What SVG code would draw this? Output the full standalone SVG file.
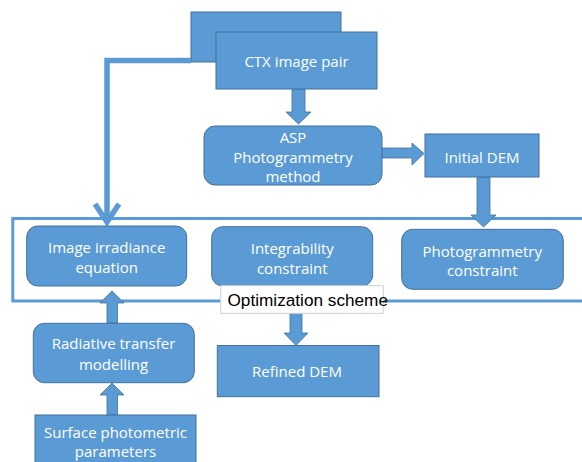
<svg xmlns="http://www.w3.org/2000/svg" width="582" height="462" viewBox="0 0 582 462">
<style>
.box{fill:#5B9BD5;stroke:#41719C;stroke-width:1}
.t{font-family:"Open Sans","Liberation Sans",sans-serif;font-size:15px;fill:#FFFFFF;text-anchor:middle}
.arr{fill:#5B9BD5;stroke:#41719C;stroke-width:0.8}
.line{fill:none;stroke:#5B9BD5;stroke-width:5.5}
.frame{fill:none;stroke:#5B9BD5;stroke-width:3}
</style>
<rect class="frame" x="12.8" y="218.5" width="580" height="82.5"/>
<g id="ctx-back"><rect class="box" x="191" y="12" width="150" height="50"/></g>
<g id="connectors">
<path class="line" d="M191,60.5 H107 V221"/>
<path class="line" d="M95,204 L107,222 L119,204" stroke-linejoin="miter"/>
<polygon class="arr" points="292,89 305,89 305,112 311,112 298.5,124 286,112 292,112"/>
<polygon class="arr" points="382,148 412,148 412,143 424,153.5 412,165 412,158 382,158"/>
<polygon class="arr" points="477,177 490,177 490,215 496,215 483.5,227 471,215 477,215"/>
<polygon class="arr" points="107,323 117.5,323 117.5,303 124,303 112,291 100,303 107,303"/>
<polygon class="arr" points="107,415 117.5,415 117.5,395 124,395 112,383 100,395 107,395"/>
<polygon class="arr" points="290,313 302,313 302,333 308,333 296,345.5 284,333 290,333"/>
</g>
<g id="ctx"><rect class="box" x="216" y="32" width="161" height="57"/><text class="t" x="296.5" y="67">CTX image pair</text></g>
<g id="asp"><rect class="box" x="204" y="126" width="178" height="59" rx="11"/><text class="t" x="293" y="143">ASP</text><text class="t" x="293" y="162.5">Photogrammetry</text><text class="t" x="293" y="182">method</text></g>
<g id="initial-dem"><rect class="box" x="425" y="134" width="114" height="43"/><text class="t" x="482" y="162.5">Initial DEM</text></g>
<g id="image-irradiance"><rect class="box" x="26.7" y="226" width="160" height="60" rx="11"/><text class="t" x="106.7" y="252.5">Image irradiance</text><text class="t" x="106.7" y="272.5">equation</text></g>
<g id="integrability"><rect class="box" x="211.7" y="226.7" width="161" height="59.3" rx="11"/><text class="t" x="292.3" y="254.3">Integrability</text><text class="t" x="292.3" y="274">constraint</text></g>
<g id="photogrammetry-constraint"><rect class="box" x="401.7" y="229.3" width="161.6" height="60" rx="11"/><text class="t" x="482.3" y="256.7">Photogrammetry</text><text class="t" x="482.3" y="275.7">constraint</text></g>
<g id="optimization-label"><rect x="220.7" y="285.7" width="162.6" height="27.6" fill="#FFFFFF" stroke="#D0D0D0" stroke-width="1"/><text x="227.5" y="306.3" font-family="Liberation Sans, Arial, sans-serif" font-size="17.2" fill="#000000">Optimization scheme</text></g>
<g id="radiative"><rect class="box" x="33.3" y="323.3" width="161" height="59.4" rx="11"/><text class="t" x="113.5" y="349.3">Radiative transfer</text><text class="t" x="113.5" y="370">modelling</text></g>
<g id="refined-dem"><rect class="box" x="217.3" y="345.5" width="161.7" height="51.2"/><text class="t" x="297" y="377.3">Refined DEM</text></g>
<g id="surface"><rect class="box" x="35" y="415" width="161" height="60"/><text class="t" x="115.5" y="437.7">Surface photometric</text><text class="t" x="115.5" y="456.7">parameters</text></g>
</svg>
